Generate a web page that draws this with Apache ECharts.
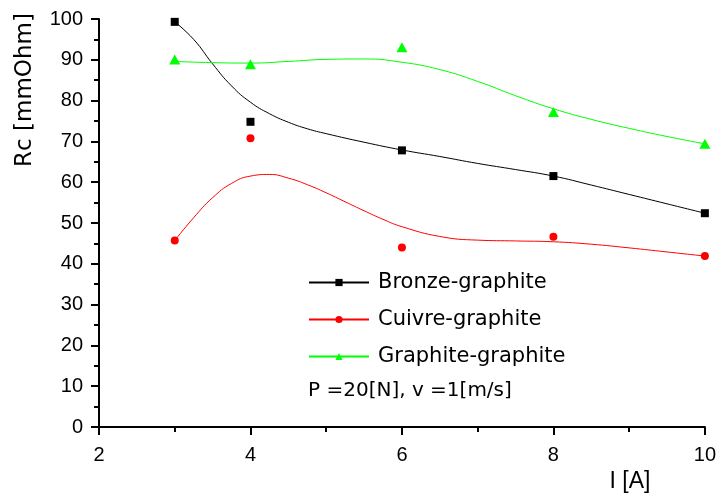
<!DOCTYPE html>
<html>
<head>
<meta charset="utf-8">
<script src="https://cdn.jsdelivr.net/npm/echarts@6/dist/echarts.min.js"></script>
<style>
  html, body { margin: 0; padding: 0; background: #fff; }
  #chart { width: 719px; height: 501px; }
</style>
</head>
<body>
<div id="chart"></div>
<script>
// Measured contact resistance Rc [mmOhm] against current I [A]
const currents = [3, 4, 6, 8, 10];
const bronzeValues = [99.3, 74.8, 67.8, 61.5, 52.4];
const cuivreValues = [45.7, 70.8, 44.0, 46.6, 41.9];
const graphiteValues = [90.1, 88.9, 93.1, 77.2, 69.4];

// Fitted trend curves, sampled as [I, Rc] pairs
const bronzeFit = [[3, 99.3], [3.25, 95.0], [3.5, 89.0], [3.75, 83.6], [4, 79.6], [4.25, 76.8],
  [4.5, 74.7], [4.75, 73.1], [5, 71.9], [5.5, 69.8], [6, 67.9], [6.5, 66.3], [7, 64.6],
  [7.5, 63.1], [8, 61.5], [8.5, 59.3], [9, 57.0], [9.5, 54.7], [10, 52.4]];
const cuivreFit = [[3, 45.7], [3.25, 51.3], [3.5, 56.2], [3.75, 59.7], [4, 61.5], [4.25, 61.9],
  [4.5, 61.0], [4.75, 59.4], [5, 57.4], [5.25, 55.2], [5.5, 53.0], [5.75, 50.9], [6, 49.1],
  [6.5, 46.7], [7, 45.8], [7.5, 45.6], [8, 45.4], [8.5, 44.8], [9, 43.9], [9.5, 42.9], [10, 41.9]];
const graphiteFit = [[3, 89.6], [3.5, 89.3], [4, 89.2], [4.5, 89.6], [5, 90.1], [5.5, 90.2],
  [6, 89.4], [6.5, 87.6], [7, 84.7], [7.5, 81.2], [8, 78.0], [8.5, 75.4], [9, 73.2],
  [9.5, 71.2], [10, 69.4]];

const xTicks = { min: 2, max: 10, step: 2 };
const yTicks = { min: 0, max: 100, step: 10 };

const seriesNames = ['Bronze-graphite', 'Cuivre-graphite', 'Graphite-graphite'];
const seriesColors = ['#000000', '#ff0000', '#00ff00'];
const seriesSymbols = ['rect', 'circle', 'triangle'];
const symbolSizes = [8, 8, [11, 10]];
const measured = [bronzeValues, cuivreValues, graphiteValues];
const fits = [bronzeFit, cuivreFit, graphiteFit];

const FONT = 'DejaVu Sans';
const TICK_FONT = 'Liberation Sans';

const series = [];
seriesNames.forEach((name, i) => {
  series.push({
    name: name,
    type: 'line',
    data: fits[i],
    smooth: 0.5,
    symbol: seriesSymbols[i],
    showSymbol: false,
    color: seriesColors[i],
    lineStyle: { color: seriesColors[i], width: 1 },
    silent: true,
    z: 2
  });
});
seriesNames.forEach((name, i) => {
  series.push({
    name: name + ' ',
    type: 'scatter',
    data: currents.map((x, k) => [x, measured[i][k]]),
    symbol: seriesSymbols[i],
    symbolSize: symbolSizes[i],
    itemStyle: { color: seriesColors[i], opacity: 1 },
    z: 3
  });
});

const chart = echarts.init(document.getElementById('chart'), null, { renderer: 'canvas' });
chart.setOption({
  animation: false,
  backgroundColor: '#ffffff',
  textStyle: { fontFamily: FONT, color: '#000' },
  grid: { left: 99, right: 11, top: 19, bottom: 74, containLabel: false },
  xAxis: {
    type: 'value',
    min: xTicks.min, max: xTicks.max, interval: xTicks.step,
    name: 'I [A]',
    nameLocation: 'middle',
    nameGap: 41,
    nameTextStyle: { fontFamily: TICK_FONT, fontSize: 23, color: '#000', padding: [0, 0, 0, 456] },
    axisLine: { lineStyle: { color: '#000', width: 2 } },
    axisTick: { inside: false, length: 8, lineStyle: { color: '#000', width: 2 } },
    minorTick: { show: true, splitNumber: 2, length: 5, lineStyle: { color: '#000', width: 2 } },
    splitLine: { show: false },
    axisLabel: { fontFamily: TICK_FONT, fontSize: 20, color: '#000', margin: 18 }
  },
  yAxis: {
    type: 'value',
    min: yTicks.min, max: yTicks.max, interval: yTicks.step,
    name: 'Rc [mmOhm]',
    nameLocation: 'middle',
    nameGap: 62,
    nameTextStyle: { fontFamily: FONT, fontSize: 23, color: '#000', padding: [0, 0, 0, 266] },
    axisLine: { show: true, lineStyle: { color: '#000', width: 2 } },
    axisTick: { show: true, inside: false, length: 8, lineStyle: { color: '#000', width: 2 } },
    minorTick: { show: true, splitNumber: 2, length: 5, lineStyle: { color: '#000', width: 2 } },
    splitLine: { show: false },
    axisLabel: { fontFamily: TICK_FONT, fontSize: 20, color: '#000', margin: 16 }
  },
  legend: {
    data: seriesNames,
    orient: 'vertical',
    left: 308,
    top: 272,
    padding: 0,
    itemWidth: 60,
    itemHeight: 9,
    itemGap: 16,
    textStyle: { fontFamily: FONT, fontSize: 21, color: '#000', lineHeight: 21, padding: [0, 0, 0, 4] },
    selectedMode: false
  },
  graphic: [{
    type: 'text',
    left: 308,
    top: 381,
    style: { text: 'P =20[N], v =1[m/s]', font: '20px "DejaVu Sans"', fill: '#000' }
  }],
  series: series
});
</script>
</body>
</html>
